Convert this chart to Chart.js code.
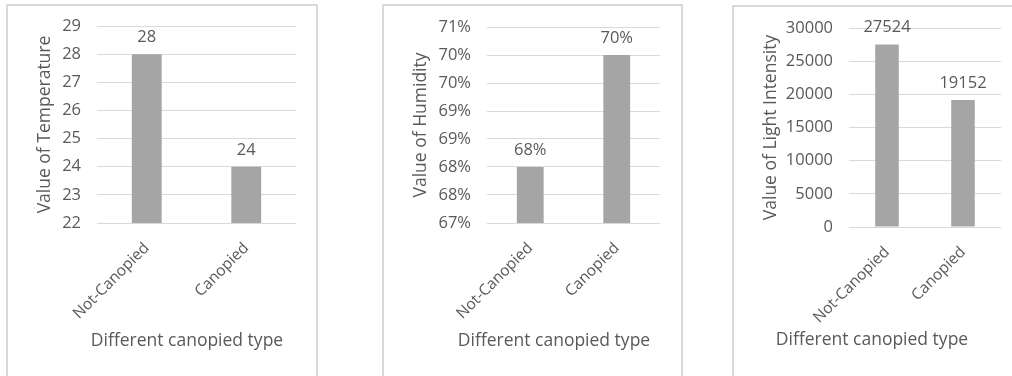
<!DOCTYPE html>
<html>
<head>
<meta charset="utf-8">
<script src="https://cdn.jsdelivr.net/npm/chart.js@4.4.1/dist/chart.umd.min.js"></script>
<style>
  html, body { margin: 0; padding: 0; background: #fff; width: 1012px; height: 376px; overflow: hidden; position: relative; }
  .panel { position: absolute; border: 2px solid #d9d9d9; box-sizing: border-box; background: #fff; }
  .panel canvas { position: absolute; left: 0; top: 0; }
</style>
</head>
<body>
<div class="panel" style="left:6px;top:4px;width:312px;height:400px"><canvas id="tempChart" width="308" height="370"></canvas></div>
<div class="panel" style="left:382px;top:4px;width:301px;height:400px"><canvas id="humChart" width="297" height="370"></canvas></div>
<div class="panel" style="left:732px;top:5px;width:300px;height:400px"><canvas id="lightChart" width="278" height="369"></canvas></div>
<script>
// Measurements for the two canopy conditions
const categories = ['Not-Canopied', 'Canopied'];
const temperature = [28, 24];
const humidity = [0.68, 0.70];
const lightIntensity = [27524, 19152];

// Value-axis ranges: [min, max, step]
const temperatureAxis = [22, 29, 1];
const humidityAxis = [0.67, 0.705, 0.005];
const lightAxis = [0, 30000, 5000];

const xTitle = 'Different canopied type';

const TEXT = '#595959';
const GRID = '#d9d9d9';
const BAR = '#a5a5a5';
const FAMILY = '"Open Sans", "Liberation Sans", sans-serif';
const TICK_SIZE = 16.5;
const CAT_SIZE = 15.5;
const TITLE_SIZE = 17.5;

const asPercent = v => Math.round(Math.round(v * 1000) / 10) + '%';

// Value printed above each bar
const barValueLabels = {
  id: 'barValueLabels',
  afterDatasetsDraw(chart, args, opts) {
    const ctx = chart.ctx;
    const meta = chart.getDatasetMeta(0);
    const values = chart.data.datasets[0].data;
    ctx.save();
    ctx.font = `${opts.size}px ${FAMILY}`;
    ctx.fillStyle = TEXT;
    ctx.textAlign = 'center';
    ctx.textBaseline = 'alphabetic';
    meta.data.forEach((bar, i) => {
      ctx.fillText(opts.format(values[i]), bar.x, bar.y - opts.gap);
    });
    ctx.restore();
  }
};

// Category-axis caption under the rotated labels
const axisCaption = {
  id: 'axisCaption',
  afterDraw(chart, args, opts) {
    const ctx = chart.ctx;
    ctx.save();
    ctx.font = `${opts.size}px ${FAMILY}`;
    ctx.fillStyle = TEXT;
    ctx.textAlign = 'center';
    ctx.textBaseline = 'middle';
    ctx.fillText(opts.text, opts.x, opts.y);
    ctx.restore();
  }
};

function makeChart(id, values, axis, yTitle, fmt, box) {
  const [min, max, step] = axis;
  return new Chart(document.getElementById(id), {
    type: 'bar',
    data: {
      labels: categories,
      datasets: [{
        data: values,
        backgroundColor: BAR,
        borderWidth: 0,
        categoryPercentage: 1,
        barPercentage: box.bar
      }]
    },
    options: {
      responsive: false,
      animation: false,
      layout: { padding: { top: box.top, right: box.right, left: 0, bottom: 0 } },
      plugins: {
        legend: { display: false },
        tooltip: { enabled: false },
        barValueLabels: { size: TICK_SIZE, gap: 12, format: fmt },
        axisCaption: { text: xTitle, size: TITLE_SIZE, x: box.captionX, y: box.captionY }
      },
      scales: {
        x: {
          grid: { display: false },
          border: { display: false },
          ticks: {
            color: TEXT,
            font: { family: FAMILY, size: CAT_SIZE },
            minRotation: 45,
            maxRotation: 45,
            autoSkip: false,
            padding: 8
          },
          afterFit(s) {
            s.height = box.xHeight;
            s.paddingLeft = 0;
            s.paddingRight = 0;
          }
        },
        y: {
          min: min,
          max: max,
          grid: { color: GRID, lineWidth: 1, drawTicks: false },
          border: { display: false },
          ticks: {
            stepSize: step,
            color: TEXT,
            font: { family: FAMILY, size: TICK_SIZE },
            padding: 16,
            callback: v => fmt(v)
          },
          title: {
            display: true,
            text: yTitle,
            color: TEXT,
            font: { family: FAMILY, size: TITLE_SIZE },
            padding: { top: 27, bottom: 0 }
          },
          afterFit(s) {
            s.width = box.yWidth;
            s.paddingTop = 0;
            s.paddingBottom = 0;
          }
        }
      }
    },
    plugins: [barValueLabels, axisCaption]
  });
}

makeChart('tempChart', temperature, temperatureAxis, 'Value of Temperature', v => String(v),
  { top: 20, right: 20, yWidth: 89, xHeight: 153, bar: 0.30, captionX: 179, captionY: 335 });
makeChart('humChart', humidity, humidityAxis, 'Value of Humidity', asPercent,
  { top: 21, right: 21, yWidth: 103, xHeight: 153, bar: 0.31, captionX: 170, captionY: 335 });
makeChart('lightChart', lightIntensity, lightAxis, 'Value of Light Intensity', v => String(v),
  { top: 21, right: 11, yWidth: 115, xHeight: 149, bar: 0.31, captionX: 138, captionY: 333 });
</script>
</body>
</html>
